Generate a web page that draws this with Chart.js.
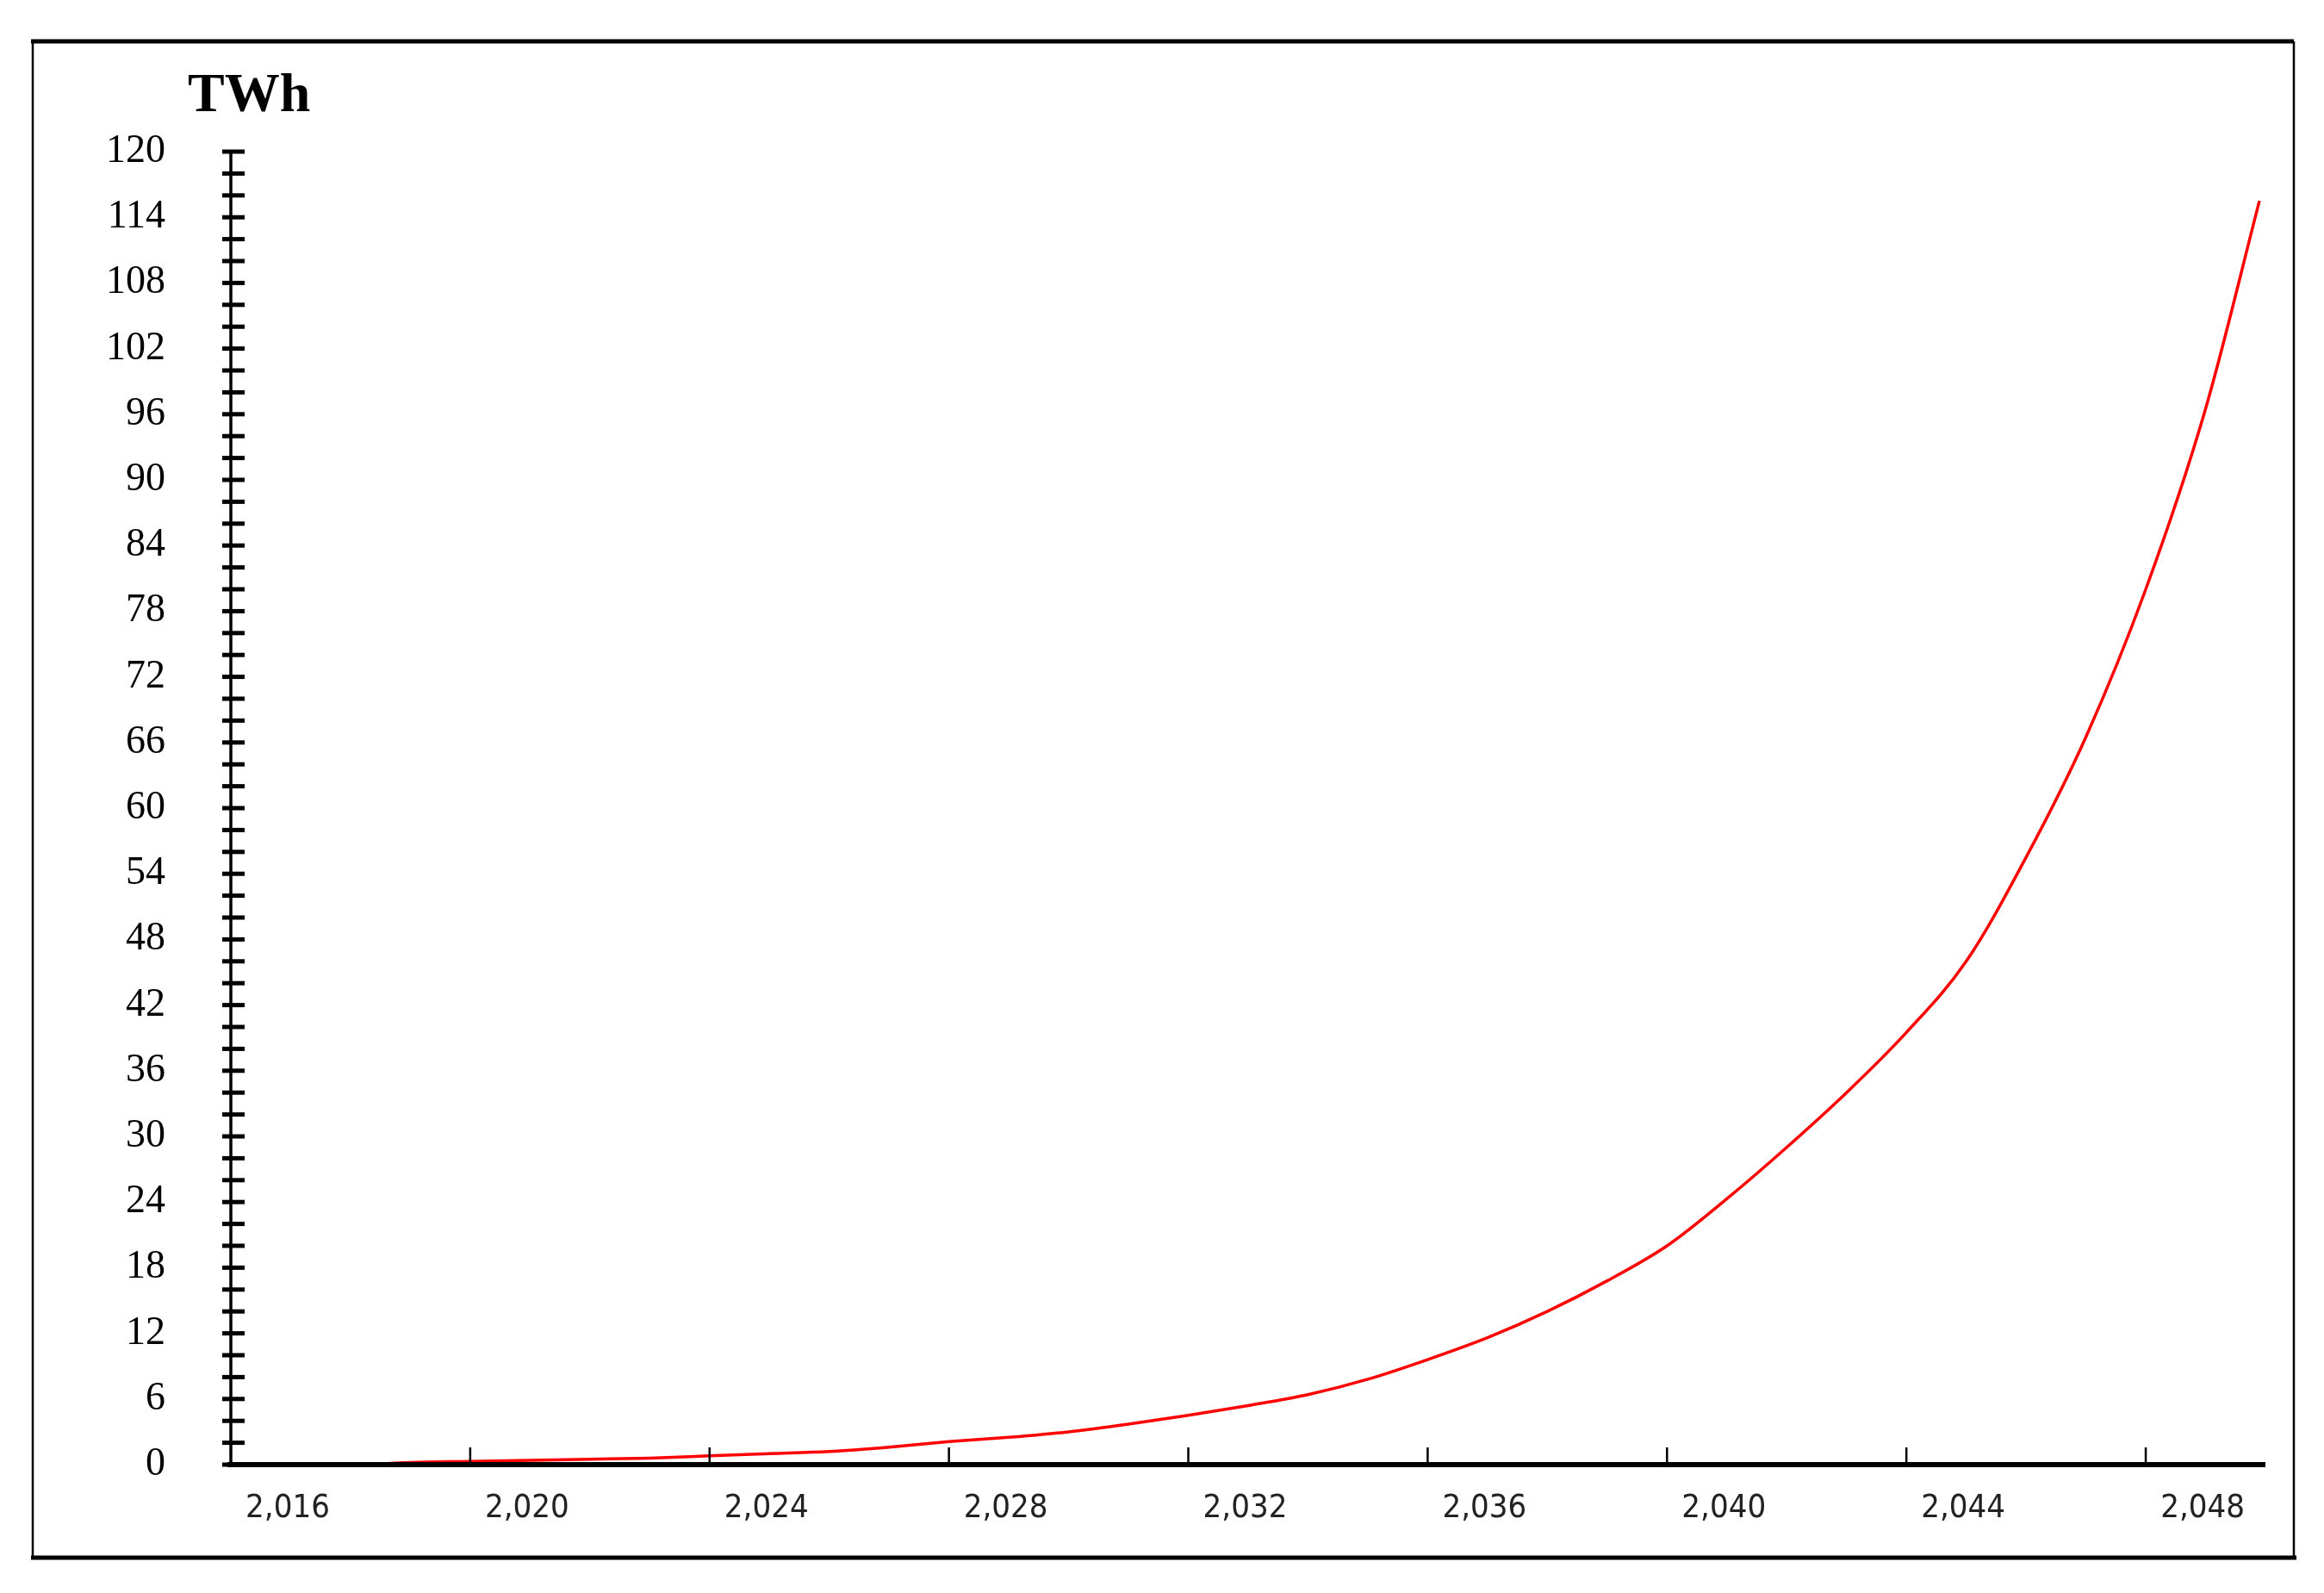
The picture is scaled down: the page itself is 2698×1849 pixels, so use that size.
<!DOCTYPE html>
<html><head><meta charset="utf-8">
<script src="https://cdn.jsdelivr.net/npm/chart.js@4"></script>
<style>html,body{margin:0;padding:0;background:#fff}#c{display:block}</style>
</head><body>
<canvas id="c" width="2698" height="1849"></canvas>
<script>
const years = [2018.3,2019,2020,2021,2022,2023,2024,2025,2026,2027,2028,2029,2030,2031,2032,2033,2034,2035,2036,2037,2038,2039,2040,2041,2042,2043,2044,2045,2046,2047,2048,2049,2049.9];
const twh =   [0,0.2,0.3,0.4,0.5,0.6,0.8,1.0,1.2,1.6,2.1,2.5,3.0,3.7,4.5,5.4,6.4,7.8,9.6,11.6,14.0,16.8,20.0,24.3,29.0,34.0,39.5,46.0,55.5,66.5,80.0,96.5,115.5];
const yTickLabels = [0,6,12,18,24,30,36,42,48,54,60,66,72,78,84,90,96,102,108,114,120];
const xTickLabels = [2016,2020,2024,2028,2032,2036,2040,2044,2048];

const deco = {
  id:'deco',
  afterDraw(chart){
    const ctx = chart.ctx, x = chart.scales.x, y = chart.scales.y;
    ctx.save();
    ctx.strokeStyle='#000';
    // frame
    ctx.lineWidth=5; ctx.beginPath(); ctx.moveTo(36,48); ctx.lineTo(2663,48); ctx.stroke();
    ctx.lineWidth=5; ctx.beginPath(); ctx.moveTo(36,1808); ctx.lineTo(2666,1808); ctx.stroke();
    ctx.lineWidth=2.5; ctx.beginPath(); ctx.moveTo(38,48); ctx.lineTo(38,1808); ctx.moveTo(2663,48); ctx.lineTo(2663,1808); ctx.stroke();
    // axes
    const x0 = x.getPixelForValue(2016), yb = y.getPixelForValue(0);
    ctx.lineWidth=3.5; ctx.beginPath(); ctx.moveTo(x0,y.getPixelForValue(120)); ctx.lineTo(x0,yb); ctx.stroke();
    ctx.lineWidth=6; ctx.beginPath(); ctx.moveTo(x0-4,yb); ctx.lineTo(x.getPixelForValue(2050),yb); ctx.stroke();
    // y ticks every 2
    ctx.lineWidth=5;
    for(let v=0; v<=120; v+=2){
      const py=y.getPixelForValue(v);
      ctx.beginPath(); ctx.moveTo(x0-10,py); ctx.lineTo(x0+16,py); ctx.stroke();
    }
    // x ticks
    ctx.lineWidth=2.5;
    for(const v of xTickLabels){ if(v===2016) continue;
      const px=x.getPixelForValue(v);
      ctx.beginPath(); ctx.moveTo(px,yb); ctx.lineTo(px,yb-20); ctx.stroke();
    }
    ctx.fillStyle='#000'; ctx.font='bold 64px "Liberation Serif", "DejaVu Serif", serif';
    ctx.textBaseline='middle'; ctx.textAlign='left';
    ctx.fillText('TWh',218,112);
    ctx.restore();
  }
};

new Chart(document.getElementById('c'),{
  type:'line',
  data:{datasets:[{data: years.map((v,i)=>({x:v,y:twh[i]})), borderColor:'#ff0000', borderWidth:3.5, pointRadius:0, tension:0.4, cubicInterpolationMode:'monotone', fill:false}]},
  options:{
    responsive:false, animation:false, devicePixelRatio:1,
    layout:{padding:{top:176,right:68,left:0,bottom:0}},
    plugins:{legend:{display:false},tooltip:{enabled:false}},
    scales:{
      x:{type:'linear',min:2016,max:2050,
        afterBuildTicks(s){s.ticks=xTickLabels.map(v=>({value:v}));},
        afterFit(s){s.height=149;},
        grid:{display:false}, border:{display:false},
        ticks:{padding:20,labelOffset:66,color:'#222',maxRotation:0,autoSkip:false,
          font:{family:'"DejaVu Sans Condensed","DejaVu Sans",sans-serif',size:38}}},
      y:{min:0,max:120,
        afterBuildTicks(s){s.ticks=yTickLabels.map(v=>({value:v}));},
        afterFit(s){s.width=268;},
        grid:{display:false}, border:{display:false},
        ticks:{padding:68,color:'#000',autoSkip:false,
          font:{family:'"Liberation Serif","DejaVu Serif",serif',size:46}}}
    }
  },
  plugins:[deco]
});
</script>
</body></html>
